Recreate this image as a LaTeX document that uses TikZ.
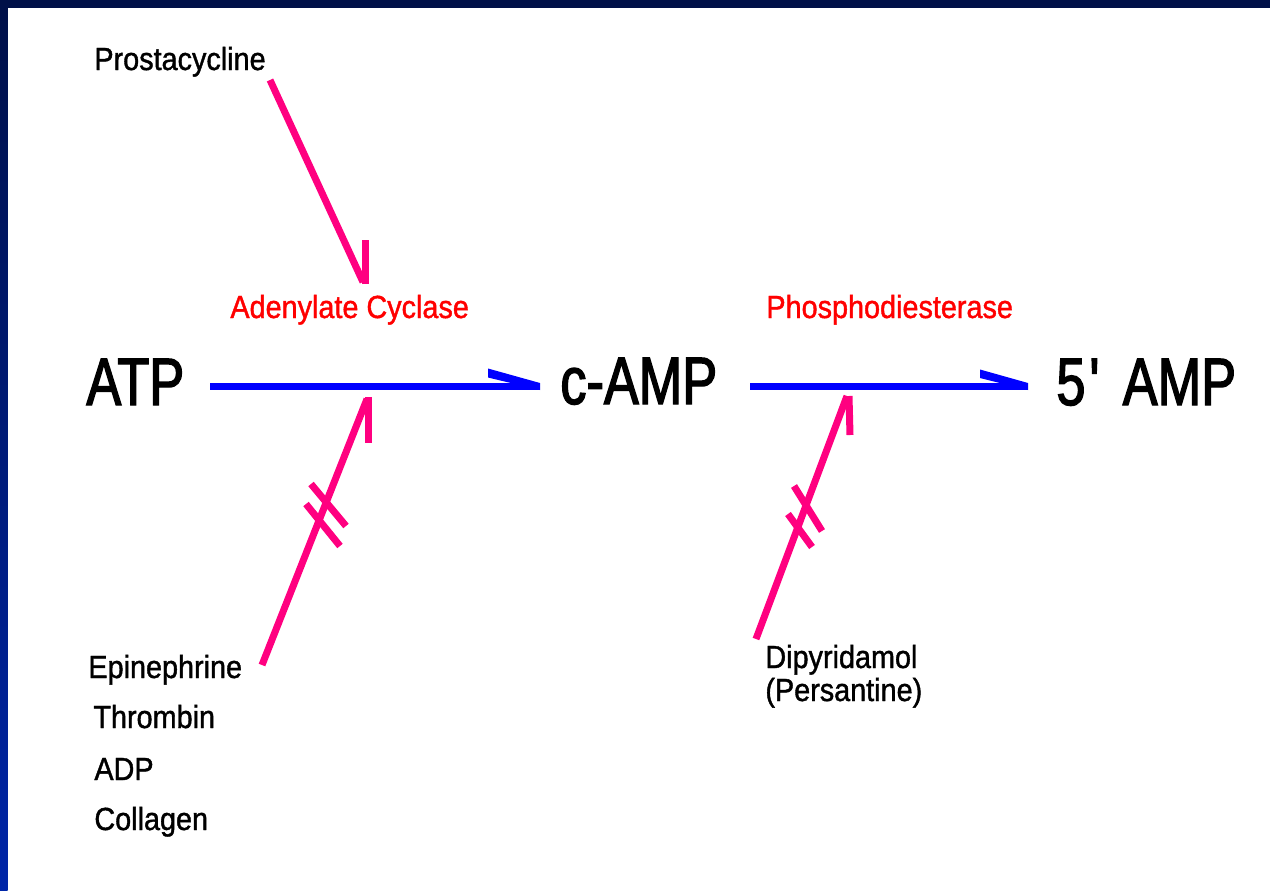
\documentclass[tikz,border=0pt]{standalone}
\usepackage{fontspec}
\setmainfont{Liberation Sans}
\newfontfamily\bigfont[FakeStretch=0.78,FakeBold=2]{Liberation Sans}
\newfontfamily\smallfont[FakeStretch=0.9,FakeBold=1.2]{Liberation Sans}
\definecolor{navy}{RGB}{0,16,72}
\definecolor{navylow}{RGB}{0,38,168}
\definecolor{flowblue}{RGB}{0,0,255}
\definecolor{effpink}{RGB}{255,0,128}
\definecolor{enzred}{RGB}{255,0,0}
\tikzset{
  big/.style={font=\bigfont\fontsize{33.5}{40}\selectfont, anchor=base west, inner sep=0pt, text=black},
  lbl/.style={font=\smallfont\fontsize{16}{19}\selectfont, anchor=base west, inner sep=0pt, text=black},
  enz/.style={lbl, text=enzred},
  flow/.style={line width=3.5pt, draw=flowblue},
  barbblue/.style={fill=flowblue},
  eff/.style={line width=3.5pt, draw=effpink},
}
\begin{document}
\begin{tikzpicture}[x=0.5pt,y=-0.5pt]
\useasboundingbox (0,0) rectangle (1270,890);
% background and frame
\fill[white] (0,0) rectangle (1270,890);
\fill[navy] (0,0) rectangle (1270,7.5);
\shade[top color=navy, bottom color=navylow] (0,0) rectangle (7.5,890);

% main species
\node[big] (atp) at (86,405) {ATP};
\node[big] (camp) at (560,404) {c-AMP};
\node[big] (amp) at (1056,405) {5\kern2pt\textquotesingle\kern3pt\ AMP};

% enzymes
\node[enz] (ac) at (230,318) {Adenylate Cyclase};
\node[enz] (pde) at (766,318) {Phosphodiesterase};

% effectors
\node[lbl] (prost) at (94,70) {Prostacycline};
\node[lbl] (epi) at (88,678) {Epinephrine};
\node[lbl] (thr) at (93,728) {Thrombin};
\node[lbl] (adp) at (94,780) {ADP};
\node[lbl] (col) at (94,830) {Collagen};
\node[lbl] (dip) at (765,668) {Dipyridamol};
\node[lbl] (pers) at (765,701) {(Persantine)};

% flow arrows
\coordinate (f1s) at (210,386.5);
\coordinate (f1e) at (540,386.5);
\coordinate (f2s) at (750,386.5);
\coordinate (f2e) at (1028,386.5);
\draw[flow] (f1s) -- (f1e);
\fill[barbblue] (488,368.5) -- (540,383) -- (540,390) -- (488,377.5) -- cycle;
\draw[flow] (f2s) -- (f2e);
\fill[barbblue] (980,369.5) -- (1028,383) -- (1028,390) -- (980,378) -- cycle;

% prostacycline stimulates adenylate cyclase
\coordinate (p1s) at (270,80);
\coordinate (p1e) at (363,282);
\draw[eff] (p1s) -- (p1e);
\draw[eff] (365,284) -- (365,240);

% epinephrine etc. inhibit (blocked)
\coordinate (p2s) at (262,665);
\coordinate (p2e) at (367,399);
\draw[eff] (p2s) -- (p2e);
\draw[eff] (368,397) -- (368,443);
\draw[eff] (311,484) -- (346,526);
\draw[eff] (306,504) -- (340,546);

% dipyridamol acts on phosphodiesterase (blocked)
\coordinate (p3s) at (756,639);
\coordinate (p3e) at (847,396);
\draw[eff] (p3s) -- (p3e);
\draw[eff] (849,396) -- (850,435);
\draw[eff] (794,486) -- (822,531);
\draw[eff] (788,514) -- (812,547);
\end{tikzpicture}
\end{document}
